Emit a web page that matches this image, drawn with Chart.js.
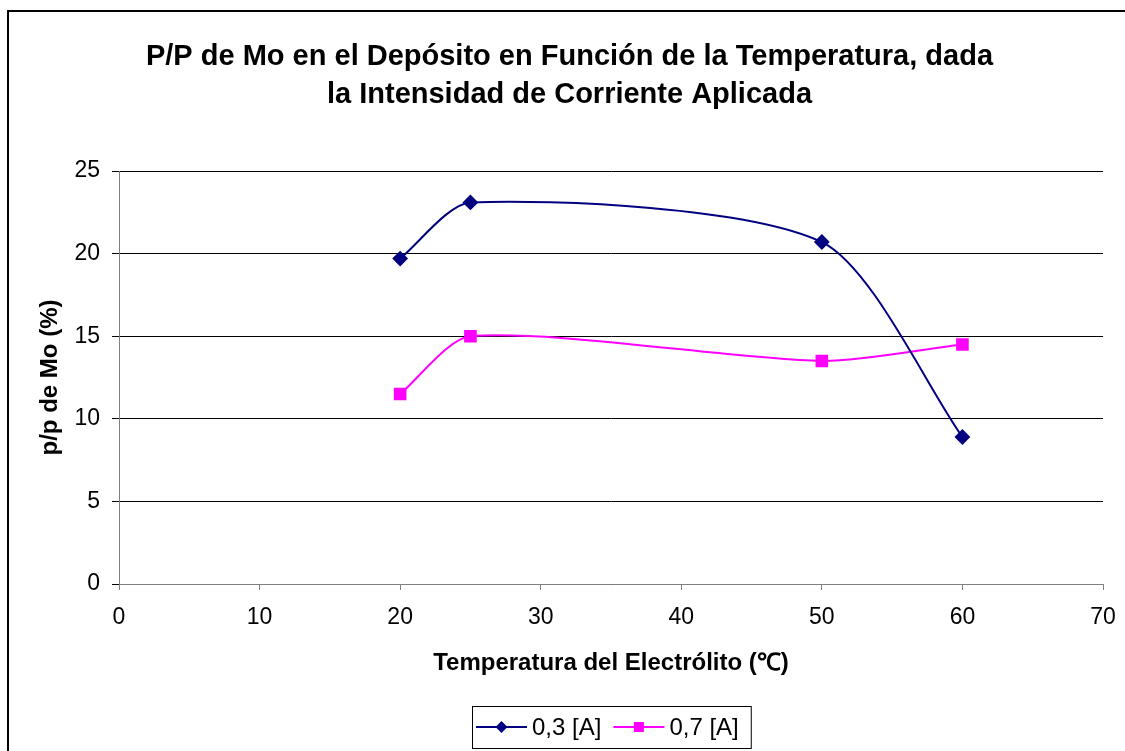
<!DOCTYPE html>
<html>
<head>
<meta charset="utf-8">
<title>P/P de Mo en el Depósito</title>
<script src="https://cdn.jsdelivr.net/npm/chart.js@4/dist/chart.umd.min.js"></script>
<style>
  html, body { margin: 0; padding: 0; background: #fff; }
  #wrap { width: 1125px; height: 751px; position: relative; }
</style>
</head>
<body>
<div id="wrap"><canvas id="moChart" width="1125" height="751"></canvas></div>
<script>
// temperaturas del electrólito (°C)
const temps = [20, 25, 50, 60];
// p/p de Mo (%) para cada intensidad
const mo03 = [19.7, 23.1, 20.7, 8.9];
const mo07 = [11.5, 15.0, 13.5, 14.5];
const seriesNames = ['0,3 [A]', '0,7 [A]'];

const xTicks = { min: 0, max: 70, step: 10 };
const yTicks = { min: 0, max: 25, step: 5 };

const FONT = "'Liberation Sans', Arial, sans-serif";

function toPoints(xs, ys) {
    return xs.map((x, i) => ({ x: x, y: ys[i] }));
}

// marco exterior del gráfico
const frame = {
    id: 'frame',
    afterDraw(chart) {
        const ctx = chart.ctx;
        ctx.save();
        ctx.strokeStyle = '#000';
        ctx.lineWidth = 2;
        ctx.strokeRect(8, 11, 2000, 2000);
        ctx.restore();
    }
};

// leyenda estilo Excel: línea + marcador, con recuadro
const boxedLegend = {
    id: 'boxedLegend',
    afterDraw(chart) {
        const ctx = chart.ctx;
        const area = chart.chartArea;
        const sets = chart.data.datasets;
        ctx.save();
        ctx.font = '24px ' + FONT;
        const symW = 51, gapText = 5, gapItem = 12, pad = 4;
        const widths = sets.map(d => ctx.measureText(d.label).width);
        let total = pad * 2 + 8;
        widths.forEach((w, i) => { total += symW + gapText + w + (i ? gapItem : 0); });
        const boxH = 42, top = 706;
        const left = Math.round((area.left + area.right) / 2 - total / 2);
        ctx.strokeStyle = '#000';
        ctx.lineWidth = 1;
        ctx.strokeRect(left + 0.5, top + 0.5, total, boxH);

        const cy = top + boxH / 2;
        let x = left + pad;
        sets.forEach((d, i) => {
            if (i) x += gapItem;
            ctx.strokeStyle = d.borderColor;
            ctx.lineWidth = 2;
            ctx.beginPath();
            ctx.moveTo(x, cy);
            ctx.lineTo(x + symW, cy);
            ctx.stroke();
            const mx = x + symW / 2;
            ctx.fillStyle = d.pointBackgroundColor;
            ctx.beginPath();
            if (d.pointStyle === 'rectRot') {
                const r = 6;
                ctx.moveTo(mx, cy - r);
                ctx.lineTo(mx + r, cy);
                ctx.lineTo(mx, cy + r);
                ctx.lineTo(mx - r, cy);
                ctx.closePath();
            } else {
                ctx.rect(mx - 5, cy - 5, 10, 10);
            }
            ctx.fill();
            x += symW + gapText;
            ctx.fillStyle = '#000';
            ctx.textAlign = 'left';
            ctx.textBaseline = 'middle';
            ctx.fillText(d.label, x, cy + 1);
            x += widths[i];
        });
        ctx.restore();
    }
};

new Chart(document.getElementById('moChart'), {
    type: 'line',
    data: {
        datasets: [{
            label: seriesNames[0],
            data: toPoints(temps, mo03),
            borderColor: '#000080',
            backgroundColor: '#000080',
            pointBackgroundColor: '#000080',
            pointBorderColor: '#000080',
            pointStyle: 'rectRot',
            pointRadius: 6.5,
            pointHoverRadius: 6.5,
            borderWidth: 2,
            tension: 0.25,
            fill: false
        }, {
            label: seriesNames[1],
            data: toPoints(temps, mo07),
            borderColor: '#FF00FF',
            backgroundColor: '#FF00FF',
            pointBackgroundColor: '#FF00FF',
            pointBorderColor: '#FF00FF',
            pointStyle: 'rect',
            pointRadius: 7.5,
            pointHoverRadius: 7.5,
            borderWidth: 2,
            tension: 0.25,
            fill: false
        }]
    },
    options: {
        responsive: false,
        animation: false,
        devicePixelRatio: 1,
        layout: { padding: { left: 36, right: 22, top: 0, bottom: 61 } },
        plugins: {
            legend: { display: false },
            tooltip: { enabled: false },
            title: {
                display: true,
                text: ['P/P de Mo en el Depósito en Función de la Temperatura, dada',
                       'la Intensidad de Corriente Aplicada'],
                color: '#000',
                font: { family: FONT, size: 29, weight: 'bold', lineHeight: 1.3 },
                padding: { top: 38, bottom: 57.6 }
            }
        },
        scales: {
            x: {
                type: 'linear',
                min: xTicks.min,
                max: xTicks.max,
                afterFit(scale) { scale.height = 106; },
                ticks: {
                    stepSize: xTicks.step,
                    color: '#000',
                    padding: 8,
                    maxRotation: 0,
                    font: { family: FONT, size: 23, lineHeight: 1.7 }
                },
                grid: {
                    drawOnChartArea: false,
                    tickLength: 6,
                    tickColor: '#808080'
                },
                border: { color: '#808080', width: 1 },
                title: {
                    display: true,
                    text: 'Temperatura del Electrólito (℃)',
                    color: '#000',
                    font: { family: FONT, size: 24, weight: 'bold' },
                    padding: { top: 0, bottom: 12.6 }
                }
            },
            y: {
                min: yTicks.min,
                max: yTicks.max,
                afterFit(scale) { scale.width = 83; },
                ticks: {
                    stepSize: yTicks.step,
                    color: '#000',
                    padding: 12,
                    font: { family: FONT, size: 23 }
                },
                grid: {
                    color: '#000',
                    lineWidth: 1,
                    tickLength: 7,
                    tickColor: '#000'
                },
                border: { color: '#808080', width: 1 },
                title: {
                    display: true,
                    text: 'p/p de Mo (%)',
                    color: '#000',
                    font: { family: FONT, size: 24, weight: 'bold' },
                    padding: { top: 0, bottom: 0 }
                }
            }
        }
    },
    plugins: [frame, boxedLegend]
});
</script>
</body>
</html>
